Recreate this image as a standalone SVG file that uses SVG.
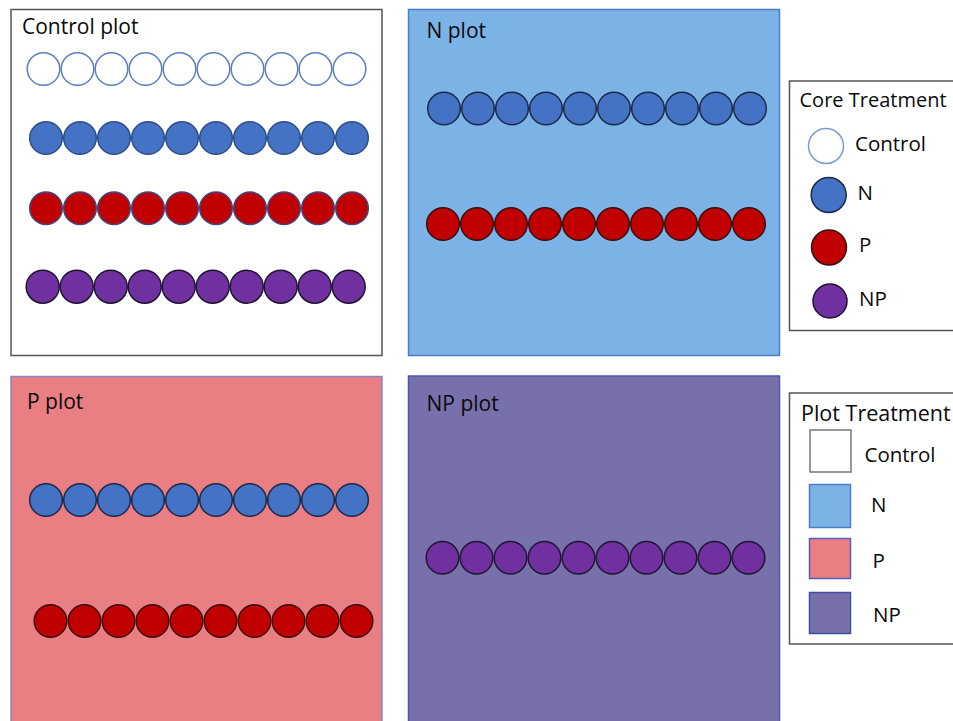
<svg xmlns="http://www.w3.org/2000/svg" width="953" height="721" viewBox="0 0 953 721">
<style>
text{font-family:"Open Sans","Noto Sans","Liberation Sans",sans-serif;font-size:21px;fill:#0a0a0a}
.lg{font-size:20.5px}
.cw{fill:#fff;stroke:#5b7fc0;stroke-width:1.5}
.cb{fill:#4472c4;stroke:#2f4f8a;stroke-width:1.5}
.cr{fill:#c00000;stroke:#3b4a8a;stroke-width:1.5}
.cp{fill:#7030a0;stroke:#1e1530;stroke-width:1.5}
.db{fill:#4472c4;stroke:#1c2a48;stroke-width:1.5}
.dr{fill:#c00000;stroke:#3a1010;stroke-width:1.5}
.dp{fill:#7030a0;stroke:#1e1530;stroke-width:1.5}
</style>
<rect width="953" height="721" fill="#fff"/>

<g id="control-plot">
<rect x="11" y="9.5" width="371" height="346" fill="#fff" stroke="#555" stroke-width="1.5"/>
<text x="22" y="34">Control plot</text>
<g>
<circle class="cw" cx="43.5" cy="69" r="16.3"/><circle class="cw" cx="77.5" cy="69" r="16.3"/><circle class="cw" cx="111.5" cy="69" r="16.3"/><circle class="cw" cx="145.5" cy="69" r="16.3"/><circle class="cw" cx="179.5" cy="69" r="16.3"/><circle class="cw" cx="213.5" cy="69" r="16.3"/><circle class="cw" cx="247.5" cy="69" r="16.3"/><circle class="cw" cx="281.5" cy="69" r="16.3"/><circle class="cw" cx="315.5" cy="69" r="16.3"/><circle class="cw" cx="349.5" cy="69" r="16.3"/>
</g>
<g>
<circle class="cb" cx="46" cy="138" r="16.3"/><circle class="cb" cx="80" cy="138" r="16.3"/><circle class="cb" cx="114" cy="138" r="16.3"/><circle class="cb" cx="148" cy="138" r="16.3"/><circle class="cb" cx="182" cy="138" r="16.3"/><circle class="cb" cx="216" cy="138" r="16.3"/><circle class="cb" cx="250" cy="138" r="16.3"/><circle class="cb" cx="284" cy="138" r="16.3"/><circle class="cb" cx="318" cy="138" r="16.3"/><circle class="cb" cx="352" cy="138" r="16.3"/>
</g>
<g>
<circle class="cr" cx="46" cy="208.3" r="16.3"/><circle class="cr" cx="80" cy="208.3" r="16.3"/><circle class="cr" cx="114" cy="208.3" r="16.3"/><circle class="cr" cx="148" cy="208.3" r="16.3"/><circle class="cr" cx="182" cy="208.3" r="16.3"/><circle class="cr" cx="216" cy="208.3" r="16.3"/><circle class="cr" cx="250" cy="208.3" r="16.3"/><circle class="cr" cx="284" cy="208.3" r="16.3"/><circle class="cr" cx="318" cy="208.3" r="16.3"/><circle class="cr" cx="352" cy="208.3" r="16.3"/>
</g>
<g>
<circle class="cp" cx="42.7" cy="286.7" r="16.5"/><circle class="cp" cx="76.7" cy="286.7" r="16.5"/><circle class="cp" cx="110.7" cy="286.7" r="16.5"/><circle class="cp" cx="144.7" cy="286.7" r="16.5"/><circle class="cp" cx="178.7" cy="286.7" r="16.5"/><circle class="cp" cx="212.7" cy="286.7" r="16.5"/><circle class="cp" cx="246.7" cy="286.7" r="16.5"/><circle class="cp" cx="280.7" cy="286.7" r="16.5"/><circle class="cp" cx="314.7" cy="286.7" r="16.5"/><circle class="cp" cx="348.7" cy="286.7" r="16.5"/>
</g>
</g>

<g id="n-plot">
<rect x="408.5" y="9.5" width="371" height="346" fill="#7cb3e7" stroke="#4a7cc8" stroke-width="1.5"/>
<text x="426.5" y="38">N plot</text>
<g>
<circle class="db" cx="444" cy="108.5" r="16.3"/><circle class="db" cx="478" cy="108.5" r="16.3"/><circle class="db" cx="512" cy="108.5" r="16.3"/><circle class="db" cx="546" cy="108.5" r="16.3"/><circle class="db" cx="580" cy="108.5" r="16.3"/><circle class="db" cx="614" cy="108.5" r="16.3"/><circle class="db" cx="648" cy="108.5" r="16.3"/><circle class="db" cx="682" cy="108.5" r="16.3"/><circle class="db" cx="716" cy="108.5" r="16.3"/><circle class="db" cx="750" cy="108.5" r="16.3"/>
</g>
<g>
<circle class="dr" cx="443" cy="224" r="16.3"/><circle class="dr" cx="477" cy="224" r="16.3"/><circle class="dr" cx="511" cy="224" r="16.3"/><circle class="dr" cx="545" cy="224" r="16.3"/><circle class="dr" cx="579" cy="224" r="16.3"/><circle class="dr" cx="613" cy="224" r="16.3"/><circle class="dr" cx="647" cy="224" r="16.3"/><circle class="dr" cx="681" cy="224" r="16.3"/><circle class="dr" cx="715" cy="224" r="16.3"/><circle class="dr" cx="749" cy="224" r="16.3"/>
</g>
</g>

<g id="p-plot">
<rect x="11" y="376.5" width="371" height="360" fill="#e97f82" stroke="#8a86c4" stroke-width="1.5"/>
<text x="27" y="409">P plot</text>
<g>
<circle class="db" cx="46" cy="500" r="16.3"/><circle class="db" cx="80" cy="500" r="16.3"/><circle class="db" cx="114" cy="500" r="16.3"/><circle class="db" cx="148" cy="500" r="16.3"/><circle class="db" cx="182" cy="500" r="16.3"/><circle class="db" cx="216" cy="500" r="16.3"/><circle class="db" cx="250" cy="500" r="16.3"/><circle class="db" cx="284" cy="500" r="16.3"/><circle class="db" cx="318" cy="500" r="16.3"/><circle class="db" cx="352" cy="500" r="16.3"/>
</g>
<g>
<circle class="dr" cx="50.5" cy="621" r="16.3"/><circle class="dr" cx="84.5" cy="621" r="16.3"/><circle class="dr" cx="118.5" cy="621" r="16.3"/><circle class="dr" cx="152.5" cy="621" r="16.3"/><circle class="dr" cx="186.5" cy="621" r="16.3"/><circle class="dr" cx="220.5" cy="621" r="16.3"/><circle class="dr" cx="254.5" cy="621" r="16.3"/><circle class="dr" cx="288.5" cy="621" r="16.3"/><circle class="dr" cx="322.5" cy="621" r="16.3"/><circle class="dr" cx="356.5" cy="621" r="16.3"/>
</g>
</g>

<g id="np-plot">
<rect x="408.5" y="376" width="371" height="360" fill="#7770aa" stroke="#4a58b0" stroke-width="1.5"/>
<text x="426.5" y="411">NP plot</text>
<g>
<circle class="dp" cx="442.5" cy="557.7" r="16.3"/><circle class="dp" cx="476.5" cy="557.7" r="16.3"/><circle class="dp" cx="510.5" cy="557.7" r="16.3"/><circle class="dp" cx="544.5" cy="557.7" r="16.3"/><circle class="dp" cx="578.5" cy="557.7" r="16.3"/><circle class="dp" cx="612.5" cy="557.7" r="16.3"/><circle class="dp" cx="646.5" cy="557.7" r="16.3"/><circle class="dp" cx="680.5" cy="557.7" r="16.3"/><circle class="dp" cx="714.5" cy="557.7" r="16.3"/><circle class="dp" cx="748.5" cy="557.7" r="16.3"/>
</g>
</g>

<g id="core-legend">
<rect x="789.5" y="81" width="180" height="249.5" fill="#fff" stroke="#555" stroke-width="1.5"/>
<text class="lg" x="799.5" y="106.5" style="font-size:20px">Core Treatment</text>
<circle cx="826" cy="146" r="17.5" fill="#fff" stroke="#7f9bcb" stroke-width="1.5"/>
<text class="lg" x="855" y="150.5">Control</text>
<circle cx="828.7" cy="195" r="17.5" class="db"/>
<text class="lg" x="857.5" y="200">N</text>
<circle cx="829" cy="247.5" r="17.5" class="dr"/>
<text class="lg" x="859" y="252">P</text>
<circle cx="830" cy="301" r="17" class="dp"/>
<text class="lg" x="859" y="306">NP</text>
</g>

<g id="plot-legend">
<rect x="789.5" y="393" width="180" height="251" fill="#fff" stroke="#555" stroke-width="1.5"/>
<text class="lg" x="801" y="420.5" style="font-size:21.5px">Plot Treatment</text>
<rect x="810" y="430" width="41" height="42" fill="#fff" stroke="#777" stroke-width="1.5"/>
<text class="lg" x="864.5" y="461.5">Control</text>
<rect x="809.5" y="484.5" width="41" height="43" fill="#7cb3e7" stroke="#4a7cc8" stroke-width="1.5"/>
<text class="lg" x="871" y="511.5">N</text>
<rect x="809.5" y="538.5" width="41" height="40" fill="#e97f82" stroke="#5060b8" stroke-width="1.5"/>
<text class="lg" x="872.5" y="568">P</text>
<rect x="809.5" y="592.5" width="41" height="41" fill="#7770aa" stroke="#3f4fa8" stroke-width="1.5"/>
<text class="lg" x="873" y="622">NP</text>
</g>
</svg>
